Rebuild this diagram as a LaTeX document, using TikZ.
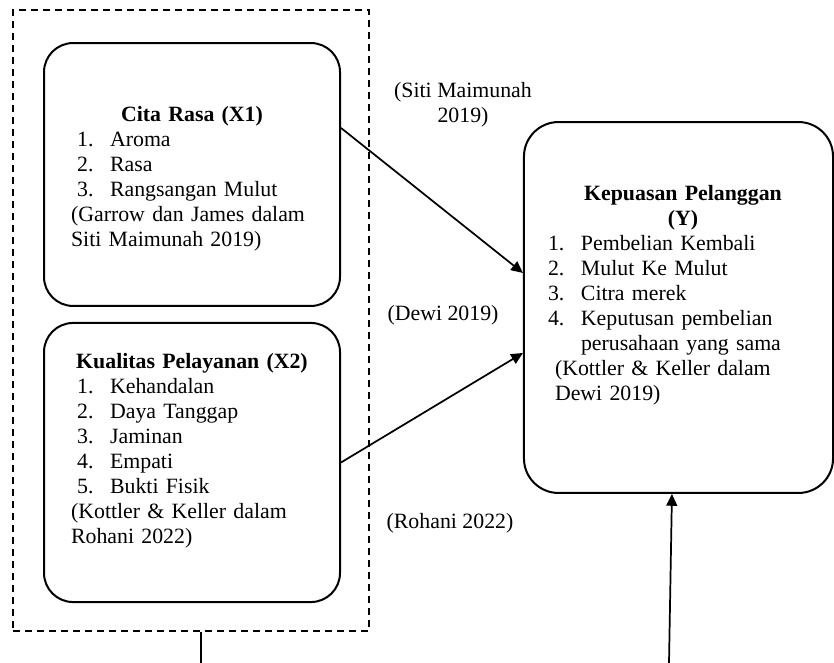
\documentclass[tikz,border=0pt]{standalone}
\usepackage{fontspec}
\setmainfont{Liberation Serif}
\usetikzlibrary{arrows.meta,positioning}

% numbered indicator line
\newcommand{\itm}[2]{\makebox[18.15pt][l]{#1}#2}

\begin{document}
\begin{tikzpicture}[
  x=0.55pt, y=-0.55pt,
  varbox/.style={rectangle, draw, line width=1.1pt, rounded corners=16pt,
                 minimum width=162.8pt, inner sep=0pt},
  boxtext/.style={align=left, inner sep=0pt,
                  font=\fontsize{12pt}{13.75pt}\selectfont},
  note/.style={align=center, inner sep=0pt,
               font=\fontsize{12pt}{13.75pt}\selectfont},
  groupbox/.style={rectangle, draw, dash pattern=on 4pt off 2.6pt,
                   line width=1.1pt, inner sep=0pt},
  edge/.style={draw, line width=0.95pt, -{Triangle[length=6.5pt,width=6pt]}},
]
  \useasboundingbox (0,0) rectangle (834,663);

  % Independent variables inside the dashed group
  \node[groupbox, minimum width=195.8pt, minimum height=341.5pt] (groupx) at (191,320.5) {};
  \node[varbox, minimum height=144.6pt] (citarasa) at (192,174.5) {};
  \node[boxtext, text width=133pt] (citarasatxt) at (192,178.5)
       {\makebox[\hsize]{\textbf{Cita Rasa (X1)}}\\
        \hspace*{3.3pt}\itm{1.}{Aroma}\\
        \hspace*{3.3pt}\itm{2.}{Rasa}\\
        \hspace*{3.3pt}\itm{3.}{Rangsangan Mulut}\\
        (Garrow dan James dalam\\
        Siti Maimunah 2019)};

  \node[varbox, minimum height=153.5pt] (pelayanan) at (192,462.5) {};
  \node[boxtext, text width=133pt] (pelayanantxt) at (192,450.5)
       {\makebox[\hsize]{\textbf{Kualitas Pelayanan (X2)}}\\
        \hspace*{3.3pt}\itm{1.}{Kehandalan}\\
        \hspace*{3.3pt}\itm{2.}{Daya Tanggap}\\
        \hspace*{3.3pt}\itm{3.}{Jaminan}\\
        \hspace*{3.3pt}\itm{4.}{Empati}\\
        \hspace*{3.3pt}\itm{5.}{Bukti Fisik}\\
        (Kottler \& Keller dalam\\
        Rohani 2022)};

  % Dependent variable
  \node[varbox, rounded corners=19pt, minimum width=170pt, minimum height=204pt]
       (kepuasan) at (678.5,307.5) {};
  \node[boxtext, text width=148.5pt] (kepuasantxt) at (683,295.5)
       {\makebox[\hsize]{\textbf{Kepuasan Pelanggan}}\\
        \makebox[\hsize]{\textbf{(Y)}}\\
        \itm{1.}{Pembelian Kembali}\\
        \itm{2.}{Mulut Ke Mulut}\\
        \itm{3.}{Citra merek}\\
        \itm{4.}{Keputusan pembelian}\\
        \hspace*{18.15pt}perusahaan yang sama\\
        \hspace*{3.85pt}(Kottler \& Keller dalam\\
        \hspace*{3.85pt}Dewi 2019)};

  % Source notes
  \node[note] (srcx1) at (463,105) {(Siti Maimunah\\2019)};
  \node[note] (srcy) at (443,315) {(Dewi 2019)};
  \node[note] (srcx2) at (450,523) {(Rohani 2022)};

  % Paths
  \draw[edge] ([yshift=25.6pt]citarasa.east) -- ([yshift=19pt]kepuasan.west);
  \draw[edge] (pelayanan.east) -- ([yshift=-25pt]kepuasan.west);

  \coordinate (xbot) at (200.7,663);
  \coordinate (ybot) at (669,663);
  \draw[line width=0.95pt] (groupx.south -| xbot) -- (xbot);
  \draw[edge] (ybot) -- ([xshift=-3.6pt]kepuasan.south);

\end{tikzpicture}
\end{document}
